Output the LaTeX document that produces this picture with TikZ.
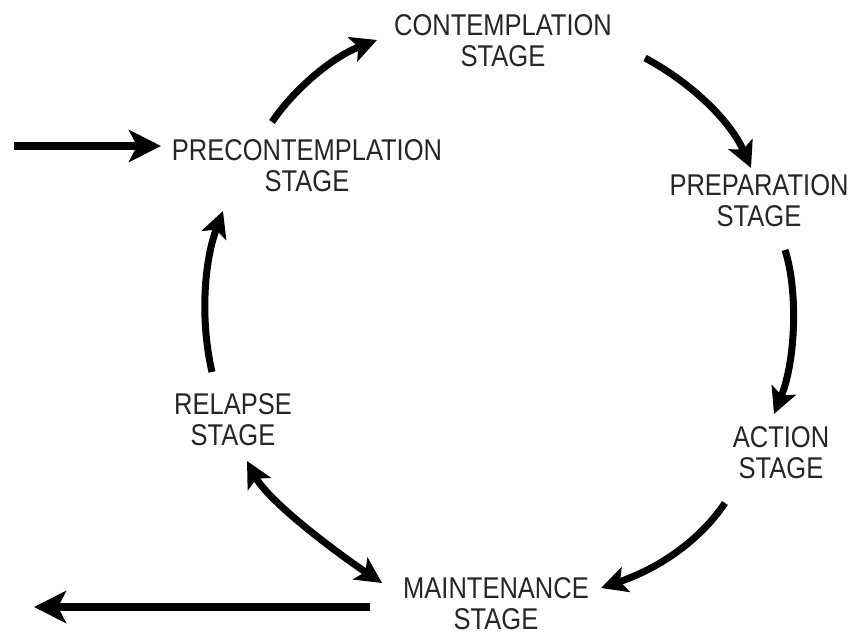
\documentclass[tikz,border=0pt]{standalone}
\usepackage{fontspec}
\usetikzlibrary{arrows.meta}
\newfontfamily\stagefont[FakeStretch=0.85]{Liberation Sans}
\begin{document}
\begin{tikzpicture}[x=1pt,y=-1pt,
  stagebox/.style={align=center,inner sep=0pt,text=black!85,font=\stagefont\fontsize{30}{31}\selectfont},
  bigarrow/.style={line width=7.5pt,-{Stealth[length=32pt,width=32pt,inset=8pt]}},
  cyclearrow/.style={line width=7pt,-{Stealth[length=26pt,width=26pt,inset=6pt]}},
  bothcycle/.style={line width=7pt,{Stealth[length=26pt,width=26pt,inset=6pt]}-{Stealth[length=26pt,width=26pt,inset=6pt]}}]
\path[use as bounding box,fill=white] (0,0) rectangle (851,639);

\node[stagebox] (con)  at (503,41)  {CONTEMPLATION\\STAGE};
\node[stagebox] (pre)  at (307,166) {PRECONTEMPLATION\\STAGE};
\node[stagebox] (prep) at (759,201) {PREPARATION\\STAGE};
\node[stagebox] (act)  at (781,453) {ACTION\\STAGE};
\node[stagebox] (rel)  at (233,420) {RELAPSE\\STAGE};
\node[stagebox] (main) at (496,604) {MAINTENANCE\\STAGE};

% free ends of the connectors
\coordinate (inS)  at (14,146);
\coordinate (inE)  at (161,146);
\coordinate (outS) at (370,607);
\coordinate (outE) at (34,607);
\coordinate (a1s) at (272,122);  \coordinate (a1e) at (377,40);
\coordinate (a2s) at (645,58);   \coordinate (a2e) at (751,168);
\coordinate (a3s) at (785,250);  \coordinate (a3e) at (774,414);
\coordinate (a4s) at (725,503);  \coordinate (a4e) at (601,588);
\coordinate (a5s) at (382,583);  \coordinate (a5e) at (247,461);
\coordinate (a6s) at (212,372);  \coordinate (a6e) at (223,211);

\draw[bigarrow] (inS) -- (inE);
\draw[bigarrow] (outS) -- (outE);
\draw[cyclearrow] (a1s) .. controls (292,92) and (330,58) .. (a1e);
\draw[cyclearrow] (a2s) .. controls (690,82) and (730,120) .. (a2e);
\draw[cyclearrow] (a3s) .. controls (798,290) and (796,360) .. (a3e);
\draw[cyclearrow] (a4s) .. controls (700,540) and (660,568) .. (a4e);
\draw[bothcycle] (a5s) .. controls (337,553) and (269,502) .. (a5e);
\draw[cyclearrow] (a6s) .. controls (200,320) and (204,262) .. (a6e);
\end{tikzpicture}
\end{document}
